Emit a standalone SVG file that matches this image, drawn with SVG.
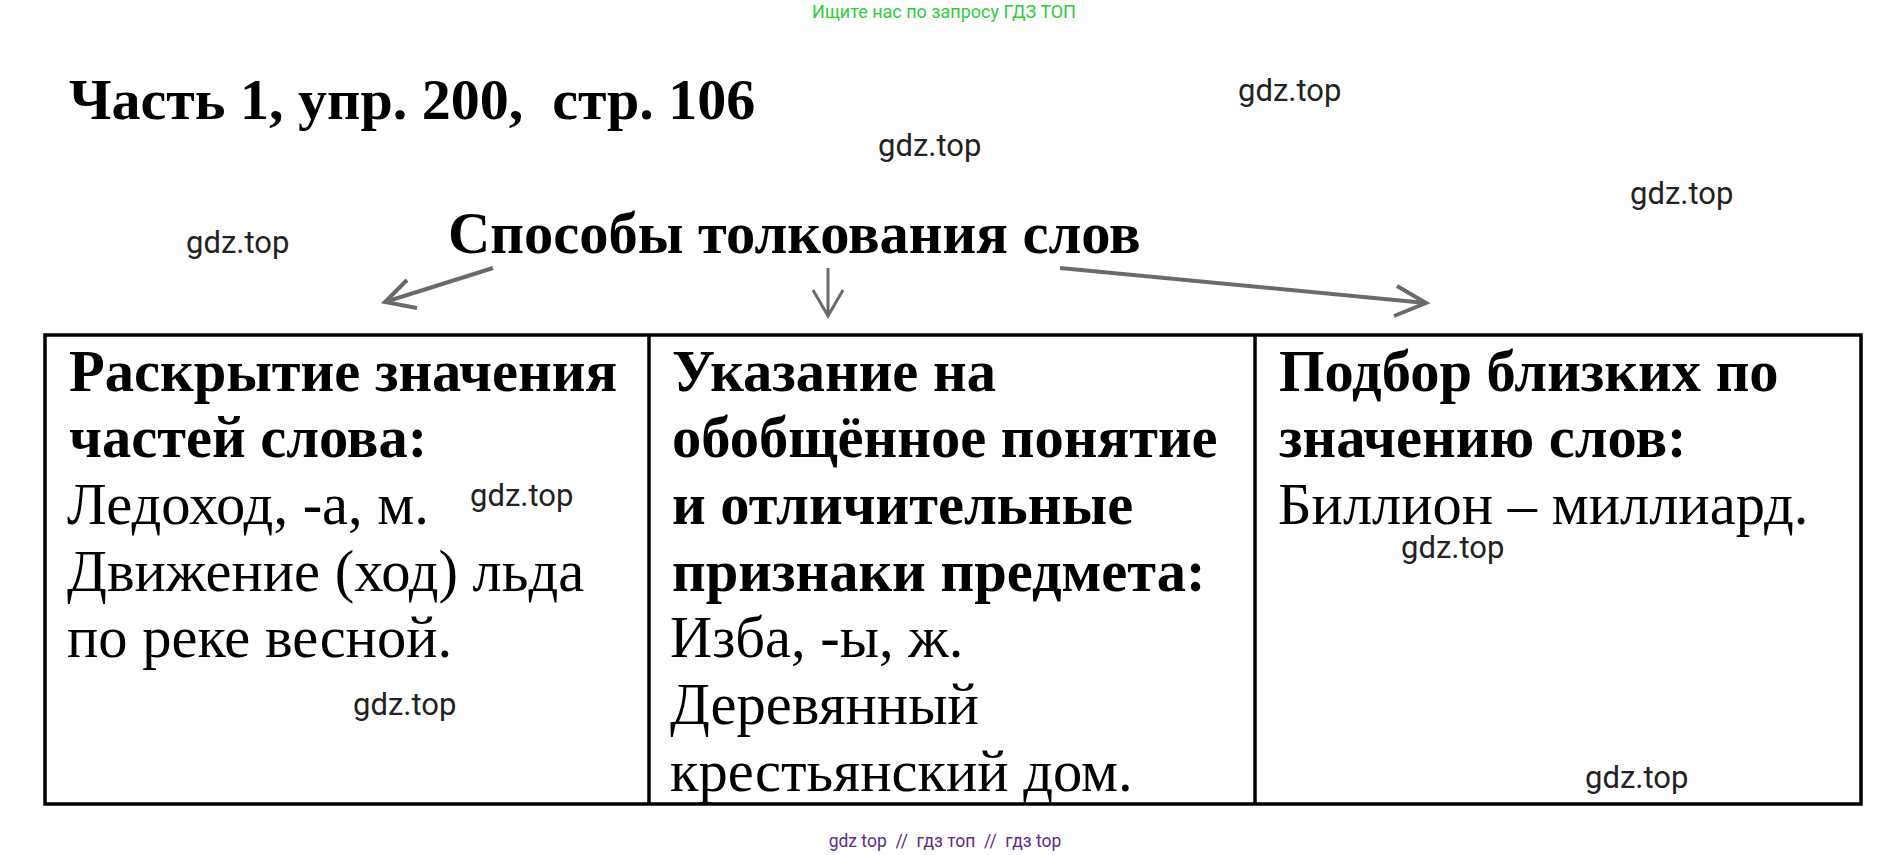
<svg xmlns="http://www.w3.org/2000/svg" width="1891" height="855" viewBox="0 0 1891 855">
<style>
.serif{font-family:"Liberation Serif","Times New Roman",serif;fill:#000}
.b{font-weight:bold}
.title{font-size:58px}
.sub{font-size:58.5px}
.cell{font-size:58.5px}
.wm{font-family:Roboto,"Liberation Sans",Arial,sans-serif;font-size:31px;fill:#222}
.arrow{stroke:#6a6a6a;stroke-width:4;fill:none;stroke-linecap:butt;stroke-linejoin:miter}
.grid{stroke:#000;stroke-width:3.5;fill:none}
</style>
<rect width="1891" height="855" fill="#fff"/>
<text x="944" y="18" text-anchor="middle" font-family="Roboto,'Liberation Sans',sans-serif" font-size="18" fill="#2fcc3a">Ищите нас по запросу ГДЗ ТОП</text>
<text class="serif b title" x="69" y="119" xml:space="preserve">Часть 1, упр. 200,  стр. 106</text>
<g id="root">
<text class="serif b sub" x="448" y="253">Способы толкования слов</text>
</g>
<g id="connectors">
<path class="arrow" d="M493,268 L385,302 M407,280 L385,302 L417,308"/>
<path class="arrow" style="stroke-width:3" d="M828,268 L828,316 M813,290 L828,316 L843,290"/>
<path class="arrow" d="M1060,268 L1426,303 M1397,286 L1426,303 L1394,316"/>
</g>
<g id="table">
<rect class="grid" x="45" y="335" width="1816" height="469"/>
<line class="grid" x1="649" y1="335" x2="649" y2="804"/>
<line class="grid" x1="1255" y1="335" x2="1255" y2="804"/>
</g>
<g id="node1">
<text class="serif cell" x="69"><tspan class="b" x="69" y="391">Раскрытие значения</tspan><tspan class="b" x="69" y="457">частей слова:</tspan><tspan x="67" y="524">Ледоход, -а, м.</tspan><tspan x="67" y="591">Движение (ход) льда</tspan><tspan x="67" y="657">по реке весной.</tspan></text>
</g>
<g id="node2">
<text class="serif cell" x="672"><tspan class="b" x="672" y="391">Указание на</tspan><tspan class="b" x="672" y="457">обобщённое понятие</tspan><tspan class="b" x="672" y="524">и отличительные</tspan><tspan class="b" x="672" y="591">признаки предмета:</tspan><tspan x="670" y="657">Изба, -ы, ж.</tspan><tspan x="670" y="724">Деревянный</tspan><tspan x="670" y="791">крестьянский дом.</tspan></text>
</g>
<g id="node3">
<text class="serif cell" x="1279"><tspan class="b" x="1279" y="391">Подбор близких по</tspan><tspan class="b" x="1279" y="457">значению слов:</tspan><tspan x="1278" y="524">Биллион – миллиард.</tspan></text>
</g>
<g id="watermarks">
<text class="wm" x="1238" y="101">gdz.top</text>
<text class="wm" x="878" y="156">gdz.top</text>
<text class="wm" x="1630" y="204">gdz.top</text>
<text class="wm" x="186" y="253">gdz.top</text>
<text class="wm" x="470" y="506">gdz.top</text>
<text class="wm" x="1401" y="558">gdz.top</text>
<text class="wm" x="353" y="715">gdz.top</text>
<text class="wm" x="1585" y="788">gdz.top</text>
</g>
<text x="945" y="847" text-anchor="middle" font-family="Roboto,'Liberation Sans',sans-serif" font-size="17.5" fill="#5b2a8e" xml:space="preserve">gdz top  //  гдз топ  //  гдз top</text>
</svg>
